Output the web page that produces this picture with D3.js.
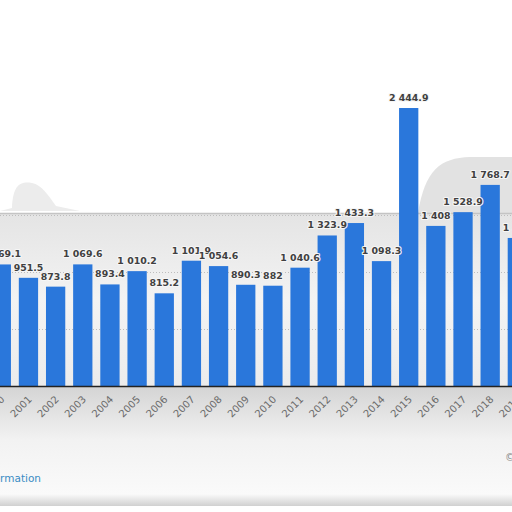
<!DOCTYPE html>
<html lang="en">
<head>
    <meta charset="UTF-8">
    <title>bars 2000-2019</title>
    <style>
        body { margin: 0; background: #fff; }
        .val { font-family: "DejaVu Sans"; font-size: 9.4px; font-weight: bold; fill: #404040;
               stroke: #f6f6f6; stroke-width: 2.2px; paint-order: stroke; stroke-linejoin: round; }
        .year { font-family: "DejaVu Sans"; font-size: 10px; fill: #6a6a6a; }
    </style>
</head>
<body>
<script src="https://cdn.jsdelivr.net/npm/d3@7"></script>
<script>
    var years = ["2000", "2001", "2002", "2003", "2004", "2005", "2006", "2007", "2008", "2009",
                 "2010", "2011", "2012", "2013", "2014", "2015", "2016", "2017", "2018", "2019"];
    var values = [1069.1, 951.5, 873.8, 1069.6, 893.4, 1010.2, 815.2, 1101.9, 1054.6, 890.3,
                  882, 1040.6, 1323.9, 1433.3, 1098.3, 2444.9, 1408, 1528.9, 1768.7, 1302];
    var gridTicks = [500, 1000, 1500];

    var width = 512, height = 512;
    var baseY = 386;

    var svg = d3.select("body").append("svg")
        .attr("width", width)
        .attr("height", height);

    var defs = svg.append("defs");
    var g1 = defs.append("linearGradient").attr("id", "plotbg").attr("x1", 0).attr("y1", 0).attr("x2", 0).attr("y2", 1);
    g1.append("stop").attr("offset", "0").attr("stop-color", "#e4e4e4");
    g1.append("stop").attr("offset", "0.5").attr("stop-color", "#f3f3f3");
    g1.append("stop").attr("offset", "1").attr("stop-color", "#ececec");
    var g2 = defs.append("linearGradient").attr("id", "footbg").attr("x1", 0).attr("y1", 0).attr("x2", 0).attr("y2", 1);
    g2.append("stop").attr("offset", "0").attr("stop-color", "#d4d4d4");
    g2.append("stop").attr("offset", "0.45").attr("stop-color", "#f2f2f2");
    g2.append("stop").attr("offset", "0.9").attr("stop-color", "#fafafa");
    g2.append("stop").attr("offset", "1").attr("stop-color", "#d0d0d0");

    /* smudged background */
    svg.append("rect").attr("x", 0).attr("y", 213).attr("width", width).attr("height", baseY - 213)
        .attr("fill", "url(#plotbg)");
    svg.append("rect").attr("x", 0).attr("y", baseY).attr("width", width).attr("height", 506 - baseY)
        .attr("fill", "url(#footbg)");
    svg.append("path")
        .attr("d", "M418,213 C425,170 440,158 470,157 L512,157 L512,213 Z")
        .attr("fill", "#e2e2e2");
    svg.append("path")
        .attr("d", "M0,211 L12,208 C13,185 20,181 32,183 C42,185 48,195 56,206 L80,211 Z")
        .attr("fill", "#ececec");
    svg.append("line").attr("x1", 0).attr("x2", width).attr("y1", 213.5).attr("y2", 213.5)
        .attr("stroke", "#c4c4c4").attr("stroke-width", 1.5);

    var step = 27.16;
    var x = d3.scaleBand()
        .domain(years)
        .range([1.3 - step / 2, 1.3 - step / 2 + step * years.length])
        .paddingInner(0.29)
        .paddingOuter(0.145);

    var y = d3.scaleLinear()
        .domain([0, 2500])
        .range([baseY, baseY - 2500 * 0.1137]);

    /* gridlines */
    svg.selectAll(".grid")
        .data(gridTicks)
        .enter()
        .append("line")
        .attr("x1", 0)
        .attr("x2", width)
        .attr("y1", function (d) { return Math.round(y(d)) + 0.5; })
        .attr("y2", function (d) { return Math.round(y(d)) + 0.5; })
        .attr("stroke", "#bdbdbd")
        .attr("stroke-dasharray", "1,2");

    /* bars */
    svg.selectAll(".bar")
        .data(values)
        .enter()
        .append("rect")
        .attr("x", function (d, i) { return x(years[i]); })
        .attr("y", function (d) { return y(d); })
        .attr("width", x.bandwidth())
        .attr("height", function (d) { return baseY - y(d); })
        .attr("fill", "#2a77db");

    /* axis */
    var xAxis = d3.axisBottom(x).tickSize(0).tickPadding(0);
    var ax = svg.append("g")
        .attr("transform", "translate(0," + baseY + ")")
        .call(xAxis);
    ax.select(".domain").attr("stroke", "#222").attr("stroke-width", 1.3).attr("d", "M0,0.5H" + width);
    ax.selectAll(".tick text")
        .attr("class", "year")
        .attr("text-anchor", "end")
        .attr("dy", 0)
        .attr("y", 0)
        .attr("transform", "translate(4,14) rotate(-45)");

    /* value labels */
    function fmt(v) {
        var s = v % 1 === 0 ? String(v) : v.toFixed(1);
        var parts = s.split(".");
        var intPart = parts[0].replace(/\B(?=(\d{3})+(?!\d))/g, " ");
        return parts.length > 1 ? intPart + "." + parts[1] : intPart;
    }

    svg.selectAll(".val")
        .data(values)
        .enter()
        .append("text")
        .attr("class", "val")
        .attr("x", function (d, i) { return x(years[i]) + x.bandwidth() / 2; })
        .attr("y", function (d) { return y(d) - 7; })
        .attr("text-anchor", "middle")
        .text(function (d) { return fmt(d); });

    /* footer */
    svg.append("text")
        .attr("x", 41)
        .attr("y", 482)
        .attr("text-anchor", "end")
        .attr("font-family", "DejaVu Sans")
        .attr("font-size", "10.5px")
        .attr("fill", "#3a8cc4")
        .text("Additional Information");
    svg.append("text")
        .attr("x", 505)
        .attr("y", 461)
        .attr("font-family", "DejaVu Sans")
        .attr("font-size", "10px")
        .attr("fill", "#888")
        .text("© Statista 2021");
</script>
</body>
</html>
